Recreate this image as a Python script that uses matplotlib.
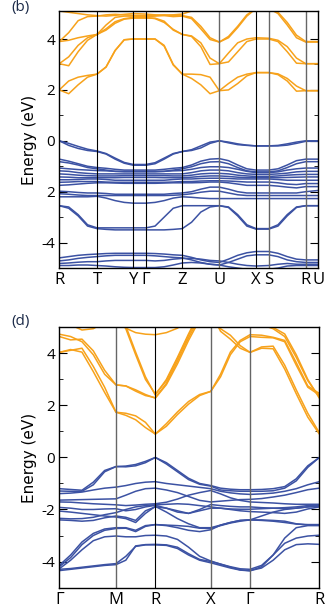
import numpy as np
import matplotlib.pyplot as plt

plt.rcParams['font.family'] = ['Open Sans', 'DejaVu Sans']

# ---- panel (b) : k-path and bands ----
b_labels = ['R', 'T', 'Y', 'Γ', 'Z', 'U', 'X', 'S', 'R', 'U']
b_nodes = [0, 37.7, 74.0, 86.7, 123.0, 160.0, 196.7, 209.4, 246.4, 259.0]
b_steps = [4, 4, 1, 4, 4, 4, 1, 4, 1]
b_ytick_labels = ['-4', '2', '0', '2', '4']

b_cond = [
    [2.0, 2.35, 2.5, 2.57, 2.62, 2.9, 3.55, 3.97, 4.0, 4.0, 4.0, 3.75, 3.0, 2.62,
     2.62, 2.6, 2.5, 1.97, 2.25, 2.5, 2.62, 2.68, 2.68, 2.63, 2.45, 2.15, 1.97, 1.97],
    [2.0, 1.85, 2.2, 2.5, 2.62, 2.9, 3.55, 3.97, 4.0, 4.0, 4.0, 3.72, 2.98, 2.62,
     2.45, 2.2, 1.85, 1.97, 2.0, 2.25, 2.55, 2.68, 2.68, 2.6, 2.35, 1.95, 1.97, 1.97],
    [3.03, 3.3, 3.75, 4.05, 4.18, 4.4, 4.68, 4.8, 4.85, 4.85, 4.8, 4.65, 4.38, 4.18,
     4.12, 3.85, 3.25, 3.03, 3.45, 3.85, 4.0, 4.05, 4.03, 3.95, 3.7, 3.25, 3.03, 3.03],
    [3.03, 2.95, 3.5, 3.95, 4.18, 4.35, 4.62, 4.78, 4.82, 4.82, 4.82, 4.7, 4.35, 4.18,
     4.1, 3.7, 3.0, 3.03, 3.1, 3.5, 3.9, 4.0, 4.0, 3.9, 3.5, 3.05, 3.03, 3.03],
    [3.9, 3.95, 4.05, 4.12, 4.18, 4.55, 4.85, 4.9, 4.9, 4.88, 4.9, 4.92, 4.88, 4.9,
     4.8, 4.4, 3.98, 3.88, 4.1, 4.5, 4.95, 5.2, 5.2, 5.0, 4.55, 4.05, 3.88, 3.88],
    [3.9, 4.25, 4.72, 4.88, 4.9, 4.95, 4.97, 4.95, 4.93, 4.92, 4.93, 4.95, 4.93, 4.92,
     4.85, 4.5, 4.05, 3.88, 4.05, 4.45, 4.9, 5.2, 5.2, 5.05, 4.65, 4.15, 3.9, 3.9],
    [5.1, 5.05, 5.0, 4.95, 4.92, 4.9, 4.93, 4.97, 5.0, 4.98, 4.95, 4.93, 4.95, 4.98,
     5.1, 5.3, 5.4, 5.4, 5.4, 5.4, 5.4, 5.4, 5.4, 5.4, 5.4, 5.4, 5.3, 5.3],
]

b_val = [
    [0, -0.1, -0.22, -0.33, -0.4, -0.5, -0.68, -0.85, -0.93, -0.93, -0.86, -0.68, -0.5, -0.42,
     -0.38, -0.28, -0.1, 0, -0.08, -0.15, -0.18, -0.2, -0.2, -0.18, -0.12, -0.05, 0, 0],
    [0, -0.18, -0.3, -0.38, -0.42, -0.52, -0.72, -0.88, -0.96, -0.96, -0.9, -0.72, -0.52, -0.42,
     -0.35, -0.2, -0.05, 0, -0.05, -0.12, -0.17, -0.2, -0.2, -0.2, -0.17, -0.1, -0.02, -0.02],
    [-0.72, -0.8, -0.9, -1.0, -1.05, -1.08, -1.12, -1.15, -1.15, -1.15, -1.15, -1.12, -1.08, -1.05,
     -0.95, -0.8, -0.72, -0.7, -0.78, -0.95, -1.1, -1.15, -1.15, -1.1, -0.95, -0.78, -0.72, -0.72],
    [-0.82, -0.87, -0.95, -1.05, -1.1, -1.15, -1.2, -1.22, -1.22, -1.22, -1.22, -1.2, -1.15, -1.1,
     -1.02, -0.9, -0.83, -0.82, -0.9, -1.05, -1.18, -1.22, -1.22, -1.18, -1.05, -0.9, -0.82, -0.82],
    [-1.07, -1.1, -1.13, -1.15, -1.17, -1.18, -1.2, -1.2, -1.2, -1.2, -1.2, -1.2, -1.18, -1.17,
     -1.12, -1.05, -1.02, -1.02, -1.05, -1.12, -1.2, -1.25, -1.25, -1.22, -1.15, -1.1, -1.07, -1.07],
    [-1.18, -1.2, -1.25, -1.28, -1.3, -1.3, -1.3, -1.3, -1.3, -1.3, -1.3, -1.3, -1.3, -1.3,
     -1.25, -1.18, -1.15, -1.15, -1.18, -1.25, -1.3, -1.32, -1.32, -1.3, -1.27, -1.22, -1.2, -1.2],
    [-1.3, -1.32, -1.35, -1.37, -1.38, -1.38, -1.38, -1.37, -1.37, -1.37, -1.37, -1.37, -1.38, -1.38,
     -1.35, -1.3, -1.28, -1.28, -1.3, -1.35, -1.38, -1.4, -1.4, -1.38, -1.35, -1.33, -1.32, -1.32],
    [-1.42, -1.43, -1.45, -1.45, -1.45, -1.45, -1.45, -1.44, -1.44, -1.44, -1.44, -1.45, -1.45, -1.45,
     -1.43, -1.4, -1.38, -1.38, -1.4, -1.43, -1.45, -1.45, -1.45, -1.45, -1.44, -1.43, -1.42, -1.42],
    [-1.53, -1.53, -1.52, -1.5, -1.5, -1.52, -1.55, -1.55, -1.55, -1.55, -1.55, -1.55, -1.52, -1.5,
     -1.5, -1.48, -1.47, -1.47, -1.48, -1.5, -1.5, -1.5, -1.5, -1.52, -1.55, -1.55, -1.55, -1.55],
    [-1.63, -1.62, -1.6, -1.6, -1.6, -1.62, -1.63, -1.63, -1.63, -1.63, -1.63, -1.63, -1.62, -1.6,
     -1.6, -1.58, -1.57, -1.57, -1.58, -1.6, -1.62, -1.62, -1.62, -1.65, -1.7, -1.72, -1.68, -1.68],
    [-1.75, -1.73, -1.7, -1.67, -1.65, -1.65, -1.66, -1.67, -1.67, -1.67, -1.67, -1.66, -1.65, -1.65,
     -1.65, -1.64, -1.62, -1.62, -1.65, -1.7, -1.75, -1.75, -1.75, -1.78, -1.82, -1.85, -1.8, -1.8],
    [-1.98, -2.0, -2.03, -2.05, -2.05, -2.07, -2.1, -2.1, -2.1, -2.1, -2.1, -2.1, -2.07, -2.05,
     -2.0, -1.9, -1.82, -1.82, -1.9, -2.0, -2.05, -2.05, -2.05, -2.05, -2.05, -2.05, -2.0, -1.95],
    [-2.08, -2.1, -2.13, -2.15, -2.15, -2.15, -2.15, -2.15, -2.15, -2.15, -2.15, -2.15, -2.14, -2.12,
     -2.08, -2.02, -1.98, -1.98, -2.05, -2.12, -2.15, -2.15, -2.15, -2.15, -2.15, -2.15, -2.15, -2.15],
    [-2.2, -2.2, -2.2, -2.2, -2.18, -2.25, -2.35, -2.42, -2.45, -2.45, -2.42, -2.35, -2.25, -2.2,
     -2.22, -2.25, -2.27, -2.27, -2.27, -2.27, -2.27, -2.27, -2.27, -2.27, -2.27, -2.27, -2.27, -2.27],
    [-2.55, -2.6, -2.9, -3.3, -3.42, -3.42, -3.42, -3.42, -3.42, -3.42, -3.35, -3.0, -2.65, -2.55,
     -2.55, -2.55, -2.55, -2.55, -2.6, -2.9, -3.3, -3.45, -3.45, -3.3, -2.9, -2.6, -2.55, -2.55],
    [-2.55, -2.65, -2.95, -3.35, -3.45, -3.48, -3.5, -3.5, -3.5, -3.5, -3.5, -3.5, -3.48, -3.45,
     -3.2, -2.8, -2.6, -2.55, -2.62, -2.95, -3.35, -3.47, -3.47, -3.35, -2.95, -2.62, -2.55, -2.55],
    [-4.6, -4.55, -4.5, -4.47, -4.45, -4.43, -4.42, -4.42, -4.42, -4.42, -4.43, -4.45, -4.48, -4.5,
     -4.58, -4.68, -4.75, -4.78, -4.65, -4.5, -4.4, -4.35, -4.35, -4.42, -4.55, -4.65, -4.68, -4.68],
    [-4.72, -4.68, -4.62, -4.58, -4.55, -4.52, -4.5, -4.5, -4.5, -4.5, -4.52, -4.55, -4.58, -4.6,
     -4.68, -4.78, -4.85, -4.88, -4.78, -4.65, -4.52, -4.48, -4.48, -4.55, -4.68, -4.75, -4.78, -4.78],
    [-4.82, -4.8, -4.77, -4.75, -4.75, -4.72, -4.7, -4.7, -4.7, -4.7, -4.72, -4.7, -4.65, -4.62,
     -4.62, -4.65, -4.7, -4.72, -4.78, -4.85, -4.9, -4.92, -4.9, -4.85, -4.82, -4.85, -4.85, -4.85],
    [-4.9, -4.9, -4.88, -4.88, -4.9, -4.92, -4.95, -4.97, -4.98, -4.98, -4.98, -4.95, -4.88, -4.8,
     -4.78, -4.8, -4.85, -4.88, -4.95, -5.0, -5.05, -5.05, -5.05, -5.0, -4.92, -4.9, -4.9, -4.9],
]

# ---- panel (d) : k-path and bands ----
d_labels = ['Γ', 'M', 'R', 'X', 'Γ', 'R']
d_nodes = [0, 56.7, 96.0, 151.4, 190.7, 260.0]
d_steps = [5, 4, 5, 4, 6]
d_ytick_labels = ['-4', '-2', '0', '2', '4']

d_cond = [
    [4.04, 4.15, 4.05, 3.3, 2.5, 1.74, 1.7, 1.6, 1.35, 0.9, 1.3, 1.75, 2.15, 2.42, 2.54,
     3.2, 4.05, 4.5, 4.72, 4.7, 4.62, 4.5, 3.65, 2.75, 2.46],
    [4.04, 4.12, 4.2, 3.5, 2.7, 1.74, 1.62, 1.45, 1.15, 0.9, 1.2, 1.65, 2.05, 2.38, 2.54,
     3.1, 3.95, 4.45, 4.65, 4.62, 4.6, 4.45, 3.55, 2.7, 2.4],
    [4.74, 4.65, 4.45, 3.95, 3.2, 2.79, 2.75, 2.6, 2.42, 2.28, 2.8, 3.6, 4.5, 5.3, 5.6,
     4.85, 4.55, 4.2, 4.04, 4.25, 4.28, 3.55, 2.6, 1.7, 0.95],
    [4.65, 4.52, 4.55, 4.1, 3.35, 2.79, 2.75, 2.55, 2.38, 2.3, 2.85, 3.7, 4.6, 5.4, 5.6,
     4.95, 4.7, 4.3, 4.04, 4.2, 4.18, 3.4, 2.45, 1.55, 0.9],
    [5.6, 5.6, 5.6, 5.6, 5.6, 5.6, 4.95, 3.95, 3.0, 2.44, 2.95, 3.8, 4.7, 5.5, 5.6,
     5.6, 5.6, 5.4, 5.3, 5.1, 4.95, 4.65, 3.85, 2.95, 2.33],
    [5.6, 5.6, 5.6, 5.6, 5.6, 5.6, 5.05, 4.05, 3.1, 2.4, 3.0, 3.85, 4.75, 5.6, 5.6,
     5.6, 5.6, 5.5, 5.4, 5.2, 5.0, 4.75, 3.95, 3.0, 2.28],
    [5.3, 5.1, 4.9, 4.95, 5.2, 5.3, 4.97, 4.8, 4.74, 4.72, 4.8, 4.97, 5.3, 5.6, 5.6,
     5.6, 5.6, 5.6, 5.6, 5.6, 5.6, 5.6, 5.6, 5.6, 5.6],
]

d_val = [
    [-1.2, -1.23, -1.26, -0.95, -0.5, -0.35, -0.33, -0.27, -0.15, 0, -0.2, -0.5, -0.8, -1.0, -1.08,
     -1.18, -1.22, -1.24, -1.24, -1.23, -1.2, -1.12, -0.82, -0.32, 0],
    [-1.29, -1.3, -1.3, -1.05, -0.55, -0.35, -0.36, -0.32, -0.2, 0, -0.25, -0.55, -0.85, -1.03, -1.1,
     -1.25, -1.28, -1.3, -1.3, -1.3, -1.28, -1.18, -0.9, -0.38, 0],
    [-1.39, -1.37, -1.33, -1.25, -1.18, -1.14, -1.08, -1.0, -0.95, -0.93, -1.0, -1.05, -1.1, -1.15, -1.2,
     -1.3, -1.36, -1.4, -1.42, -1.4, -1.37, -1.3, -1.2, -1.05, -0.93],
    [-1.64, -1.63, -1.62, -1.61, -1.6, -1.59, -1.45, -1.3, -1.2, -1.18, -1.25, -1.35, -1.5, -1.65, -1.71,
     -1.68, -1.65, -1.62, -1.61, -1.58, -1.52, -1.45, -1.35, -1.24, -1.18],
    [-1.71, -1.72, -1.75, -1.78, -1.8, -1.82, -1.85, -1.83, -1.8, -1.78, -1.72, -1.6, -1.45, -1.35, -1.27,
     -1.4, -1.55, -1.65, -1.71, -1.73, -1.75, -1.78, -1.8, -1.8, -1.8],
    [-1.92, -1.95, -2.0, -2.0, -1.98, -1.97, -2.05, -2.0, -1.9, -1.84, -1.95, -2.1, -2.15, -2.0, -1.81,
     -1.85, -1.88, -1.9, -1.9, -1.93, -1.95, -1.97, -1.95, -1.9, -1.84],
    [-2.06, -2.1, -2.15, -2.2, -2.25, -2.29, -2.35, -2.5, -2.15, -1.88, -2.1, -2.35, -2.55, -2.7, -2.7,
     -2.6, -2.5, -2.42, -2.4, -2.25, -2.1, -2.0, -1.95, -1.9, -1.88],
    [-2.34, -2.36, -2.35, -2.3, -2.2, -2.12, -2.0, -1.9, -1.85, -1.82, -1.8, -1.78, -1.8, -1.85, -1.9,
     -1.95, -1.98, -1.99, -1.99, -1.97, -1.95, -1.93, -1.9, -1.85, -1.82],
    [-2.4, -2.42, -2.45, -2.42, -2.32, -2.25, -2.3, -2.42, -2.05, -1.9, -1.95, -2.05, -2.15, -2.05, -1.95,
     -1.95, -2.0, -2.05, -2.08, -2.1, -2.12, -2.15, -2.1, -1.98, -1.9],
    [-4.35, -4.3, -4.25, -4.2, -4.15, -4.12, -3.95, -3.4, -3.35, -3.34, -3.36, -3.45, -3.7, -3.92, -4.0,
     -4.1, -4.22, -4.32, -4.35, -4.25, -3.95, -3.55, -3.35, -3.32, -3.34],
    [-4.2, -3.85, -3.35, -3.0, -2.8, -2.73, -2.72, -2.85, -2.65, -2.58, -2.6, -2.62, -2.65, -2.72, -2.73,
     -2.62, -2.52, -2.45, -2.4, -2.42, -2.45, -2.5, -2.56, -2.58, -2.58],
    [-4.28, -3.95, -3.55, -3.2, -3.05, -3.02, -3.05, -3.05, -3.0, -2.99, -3.02, -3.15, -3.45, -3.8, -3.98,
     -4.1, -4.2, -4.28, -4.3, -4.15, -3.75, -3.3, -3.1, -3.02, -2.99],
    [-4.15, -3.75, -3.25, -2.92, -2.75, -2.7, -2.7, -2.8, -2.62, -2.58, -2.62, -2.7, -2.8, -2.85, -2.78,
     -2.6, -2.5, -2.42, -2.4, -2.4, -2.42, -2.45, -2.55, -2.6, -2.6],
    [-4.3, -4.27, -4.22, -4.17, -4.12, -4.08, -3.8, -3.42, -3.36, -3.36, -3.38, -3.5, -3.75, -3.95, -4.05,
     -4.15, -4.25, -4.33, -4.36, -4.2, -3.75, -3.1, -2.7, -2.62, -2.62],
]

orange = '#F7A21B'
blue = '#3C52A3'


def kgrid(nodes, steps):
    k = [nodes[0]]
    for a, b, n in zip(nodes[:-1], nodes[1:], steps):
        k += list(np.linspace(a, b, n + 1)[1:])
    return np.array(k)


def draw(ax, nodes, steps, labels, cond, val, ylim, yticklabels, vcolors):
    k = kgrid(nodes, steps)
    for e in cond:
        ax.plot(k, e, color=orange, lw=1.1)
    for e in val:
        ax.plot(k, e, color=blue, lw=1.1)
    for x, c in zip(nodes[1:-1], vcolors):
        ax.axvline(x, color=c, lw=1.0 if c != 'k' else 0.8)
    ax.set_xlim(nodes[0], nodes[-1])
    ax.set_ylim(*ylim)
    ax.set_xticks(nodes)
    ax.set_xticklabels(labels, fontsize=12)
    ax.tick_params(axis='x', length=0, pad=3)
    ax.set_yticks([-4, -2, 0, 2, 4])
    ax.set_yticklabels(yticklabels, fontsize=11)
    ax.set_yticks([-3, -1, 1, 3], minor=True)
    ax.tick_params(axis='y', which='both', direction='in', left=True, right=True)
    ax.tick_params(axis='y', which='major', length=6, pad=3)
    ax.tick_params(axis='y', which='minor', length=3)
    ax.set_ylabel('Energy (eV)', fontsize=11, family='DejaVu Sans', labelpad=3)
    for s in ax.spines.values():
        s.set_linewidth(1.0)


fig = plt.figure(figsize=(3.33, 6.12), dpi=100)
ax_b = fig.add_axes([0.178, 0.562, 0.778, 0.420])
ax_d = fig.add_axes([0.178, 0.040, 0.781, 0.425])

draw(ax_b, b_nodes, b_steps, b_labels, b_cond, b_val, (-5.0, 5.1), b_ytick_labels,
     ['k', 'k', 'k', 'k', '#666666', 'k', '#666666', '#666666'])
draw(ax_d, d_nodes, d_steps, d_labels, d_cond, d_val, (-5.0, 5.0), d_ytick_labels,
     ['#666666', 'k', '#666666', '#666666'])

fig.text(0.035, 0.988, '(b)', fontsize=11, va='center', color='#1b2a48')
fig.text(0.035, 0.474, '(d)', fontsize=11, va='center', color='#1b2a48')

plt.savefig('out.png', dpi=100)
